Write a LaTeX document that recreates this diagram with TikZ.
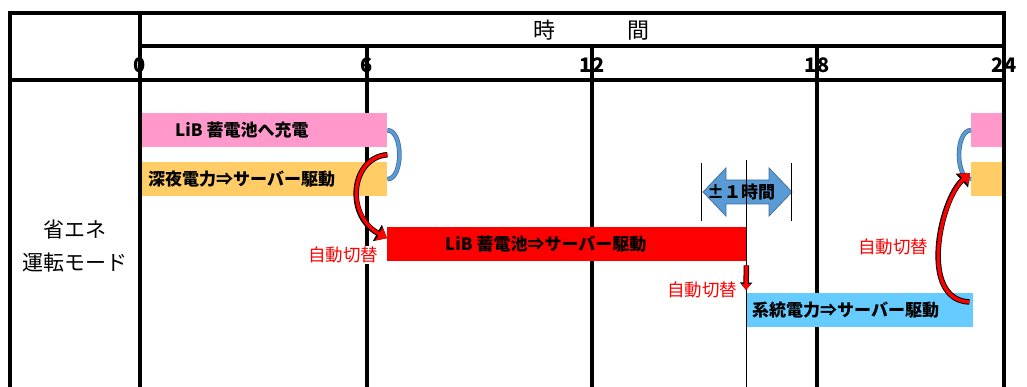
\documentclass[tikz,border=0pt]{standalone}
\usepackage{fontspec}
\setmainfont{Noto Sans CJK JP}
\usetikzlibrary{arrows.meta,positioning,calc}

\definecolor{pinkbar}{HTML}{FF99CC}
\definecolor{orangebar}{HTML}{FFCC66}
\definecolor{bluebar}{HTML}{66CCFF}
\definecolor{arrowblue}{HTML}{5B9BD5}
\definecolor{arrowedge}{HTML}{41719C}

\tikzset{
  frameline/.style={line width=3.5pt, black},
  markline/.style={line width=1pt, black},
  bar/.style={rectangle, anchor=north west, inner sep=0, minimum height=34pt},
  bartext/.style={inner sep=0, font=\fontsize{17}{20}\selectfont\bfseries},
  hour/.style={inner sep=0, font=\fontsize{20}{22}\selectfont\bfseries},
  switchlbl/.style={inner sep=0, text=red, font=\fontsize{17.5}{20}\selectfont},
  swarrow/.style={red, line width=3.5pt, -{Triangle[length=9pt,width=14pt]},
    preaction={draw=black, line width=5.5pt, -{Triangle[length=11pt,width=18pt]}}},
  swarrowsmall/.style={red, line width=3.5pt, -{Triangle[length=6pt,width=9pt]},
    preaction={draw=black, line width=5.5pt, -{Triangle[length=7.5pt,width=12pt]}}},
  swbracket/.style={draw=arrowedge, double=arrowblue, line width=0.8pt, double distance=3pt}
}

\begin{document}
\begin{tikzpicture}[x=1pt,y=-1pt]
  \useasboundingbox (0,0) rectangle (1027,387);

  % table frame
  \draw[frameline] (10,387) -- (10,13) -- (1006,13);
  \draw[frameline] (140,387) -- (140,13);
  \draw[frameline] (1004,387) -- (1004,13);
  \draw[frameline] (140,46) -- (1006,46);
  \draw[frameline] (10,80) -- (1006,80);
  \foreach \x in {367,592,817}
    \draw[frameline] (\x,46) -- (\x,387);

  % header
  \node[font=\fontsize{22}{24}\selectfont] (jikan) at (591,30) {時\hspace{72pt}間};
  \foreach \x/\h in {140/0,367/6,592/12,817/18,1004/24}
    \node[hour] (h\h) at (\x,65) {\h};
  \node[align=center, font=\fontsize{21}{33}\selectfont] (mode) at (75,246) {省エネ\\運転モード};

  % bars
  \node[bar, fill=pinkbar, minimum width=245pt] (pinkL) at (142,113) {};
  \node[bar, fill=orangebar, minimum width=245pt] (orangeL) at (142,162) {};
  \node[bar, fill=pinkbar, minimum width=31pt] (pinkR) at (971,113) {};
  \node[bar, fill=orangebar, minimum width=31pt] (orangeR) at (971,162) {};
  \node[bar, fill=red, minimum width=359pt] (libbar) at (387,227) {};
  \node[bar, fill=bluebar, minimum width=227pt] (gridbar) at (746,293) {};

  \node[bartext, right=33pt of pinkL.west] (pinkLtxt) {LiB 蓄電池へ充電};
  \node[bartext, right=6pt of orangeL.west] (orangeLtxt) {深夜電力⇒サーバー駆動};
  \node[bartext, right=58pt of libbar.west] (libtxt) {LiB 蓄電池⇒サーバー駆動};
  \node[bartext, right=6pt of gridbar.west] (gridtxt) {系統電力⇒サーバー駆動};

  % +-1 hour
  \filldraw[fill=arrowblue, draw=arrowedge, line width=0.8pt]
    (703,192) -- (726,168) -- (726,180) -- (769,180) -- (769,168) -- (792,192)
    -- (769,216) -- (769,204) -- (726,204) -- (726,216) -- cycle;
  \node[bartext] (pm) at (741,192) {±１時間};
  \draw[markline] (701,163) -- (701,221);
  \draw[markline] (791,163) -- (791,221);
  \draw[markline] (746,160) -- (746,387);

  % switching
  \draw[swbracket] (pinkL.east) .. controls +(16,0) and +(16,0) .. (orangeL.east);
  \draw[swbracket] (pinkR.west) .. controls +(-16,0) and +(-16,0) .. (orangeR.west);

  \node[switchlbl, fill=white, inner sep=1pt] (sw1) at (343,255) {自動切替};
  \node[switchlbl] (sw2) at (702,290) {自動切替};
  \node[switchlbl] (sw3) at (893,247) {自動切替};

  \coordinate (t1) at ($(pinkL.south east)!.5!(orangeL.north east)$);
  \draw[swarrow] (t1) .. controls +(-37,3) and +(-42,-23) .. ($(libbar.west)+(0,-6)$);
  \coordinate (t2) at ($(gridbar.north east)+(-4,9)$);
  \draw[swarrow] (t2) .. controls +(-51,-2) and +(-30,27) .. ($(orangeR.west)+(-1,-6)$);
  \draw[swarrowsmall] ($(libbar.south east)+(0,4)$) -- ($(gridbar.north west)+(0,-3)$);
\end{tikzpicture}
\end{document}
